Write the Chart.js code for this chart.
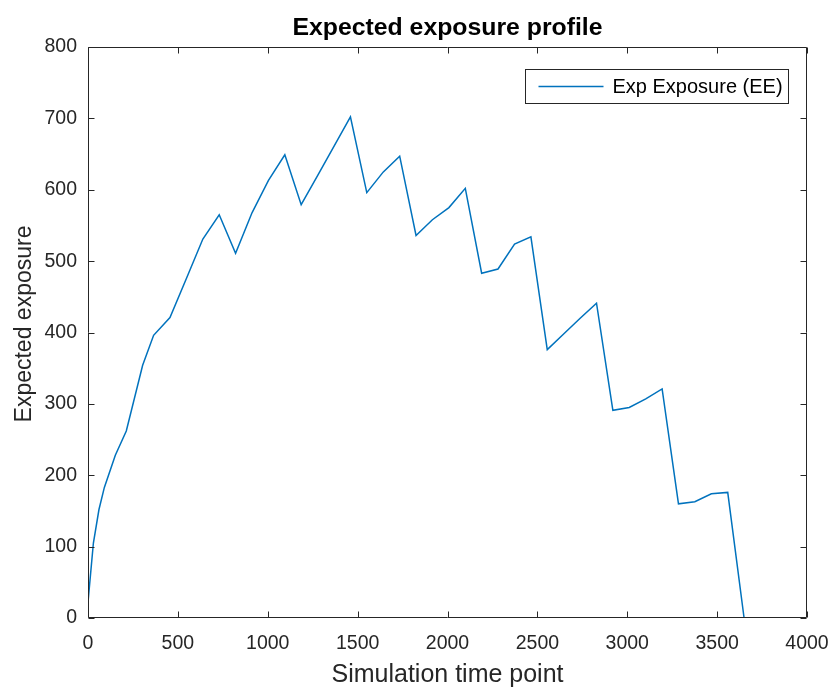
<!DOCTYPE html>
<html>
<head>
<meta charset="utf-8">
<script src="https://cdn.jsdelivr.net/npm/chart.js@4.4.1/dist/chart.umd.min.js"></script>
<style>
  html, body { margin: 0; padding: 0; background: #fff; }
  #wrap { width: 837px; height: 691px; }
</style>
</head>
<body>
<div id="wrap"><canvas id="eeChart" width="837" height="691"></canvas></div>
<script>
// simulation time points (days) and expected exposure
const timePoints = [0, 30, 61, 91, 152, 213, 304, 365, 456, 548, 639, 730, 821, 913, 1004, 1095,
    1186, 1278, 1369, 1460, 1551, 1643, 1734, 1825, 1916, 2008, 2099, 2190, 2281, 2373, 2464,
    2555, 2646, 2738, 2829, 2920, 3011, 3103, 3194, 3285, 3376, 3468, 3559, 3650];
const expExposure = [22, 105, 152, 183, 228, 262, 354, 396, 421, 476, 531, 565, 511, 568, 613, 649,
    579, 620, 661, 702, 596, 625, 647, 536, 558, 575, 602, 483, 489, 524, 534,
    376, 398, 420, 441, 291, 295, 307, 321, 160, 163, 174, 176, 0];
const xTicks = [0, 500, 1000, 1500, 2000, 2500, 3000, 3500, 4000];
const yTicks = [0, 100, 200, 300, 400, 500, 600, 700, 800];

const chartTitle = "Expected exposure profile";
const yTitle = "Expected exposure";

const FONT = "'Liberation Sans', Arial, Helvetica, sans-serif";
const AXIS = "#262626";
const BLUE = "#0072BD";

// MATLAB-like box with inward ticks on all four sides, title, y label and legend
const boxAxes = {
    id: "boxAxes",
    afterDatasetsDraw(chart) {
        const { ctx, chartArea: a, scales: { x, y } } = chart;
        const L = Math.round(a.left) + 0.5, R = Math.round(a.right) - 0.5;
        const T = Math.round(a.top) + 0.5, B = Math.round(a.bottom) - 0.5;
        const len = 6;
        ctx.save();
        ctx.strokeStyle = AXIS;
        ctx.lineWidth = 1;
        ctx.beginPath();
        ctx.rect(L, T, R - L, B - T);
        xTicks.forEach(v => {
            const px = Math.round(x.getPixelForValue(v)) + 0.5;
            ctx.moveTo(px, B); ctx.lineTo(px, B - len);
            ctx.moveTo(px, T); ctx.lineTo(px, T + len);
        });
        yTicks.forEach(v => {
            const py = Math.round(y.getPixelForValue(v)) + 0.5;
            ctx.moveTo(L, py); ctx.lineTo(L + len, py);
            ctx.moveTo(R, py); ctx.lineTo(R - len, py);
        });
        ctx.stroke();

        // title
        ctx.fillStyle = "#000";
        ctx.textAlign = "center";
        ctx.textBaseline = "middle";
        ctx.font = "bold 24.8px " + FONT;
        ctx.fillText(chartTitle, (a.left + a.right) / 2, 28);

        // y label
        ctx.save();
        ctx.translate(25, 324);
        ctx.rotate(-Math.PI / 2);
        ctx.fillStyle = AXIS;
        ctx.font = "23px " + FONT;
        ctx.fillText(yTitle, 0, 0);
        ctx.restore();

        // legend
        const ds = chart.data.datasets[0];
        const bw = 263, bh = 34;
        const bx = Math.round(a.right) - 19 - bw + 0.5, by = Math.round(a.top) + 22 + 0.5;
        ctx.fillStyle = "#fff";
        ctx.fillRect(bx, by, bw, bh);
        ctx.strokeStyle = AXIS;
        ctx.strokeRect(bx, by, bw, bh);
        const my = by + bh / 2;
        ctx.strokeStyle = ds.borderColor;
        ctx.lineWidth = 1.5;
        ctx.beginPath();
        ctx.moveTo(bx + 13, my); ctx.lineTo(bx + 78, my);
        ctx.stroke();
        ctx.fillStyle = "#000";
        ctx.textAlign = "left";
        ctx.font = "20px " + FONT;
        ctx.fillText(ds.label, bx + 87, my + 1);
        ctx.restore();
    }
};

const ctx = document.getElementById("eeChart").getContext("2d");
const eeChart = new Chart(ctx, {
    type: "scatter",
    data: {
        datasets: [
            {
                label: "Exp Exposure (EE)",
                data: timePoints.map((t, i) => ({ x: t, y: expExposure[i] })),
                showLine: true,
                borderColor: BLUE,
                borderWidth: 1.5,
                pointRadius: 0,
                tension: 0,
                fill: false,
            },
        ],
    },
    options: {
        responsive: false,
        animation: false,
        layout: { padding: { left: 0, right: 30, top: 47, bottom: 0 } },
        plugins: {
            legend: { display: false },
            tooltip: { enabled: false },
            title: { display: false },
        },
        scales: {
            x: {
                type: "linear",
                position: "bottom",
                min: 0,
                max: 4000,
                afterBuildTicks: s => { s.ticks = xTicks.map(v => ({ value: v })); },
                afterFit: s => { s.height = 73; s.paddingLeft = 0; s.paddingRight = 0; },
                ticks: {
                    color: AXIS,
                    font: { family: FONT, size: 19.5 },
                    padding: 14,
                    maxRotation: 0,
                    callback: v => String(v),
                },
                grid: { display: false, tickLength: 0 },
                border: { display: false },
                title: {
                    display: true,
                    text: "Simulation time point",
                    color: AXIS,
                    font: { family: FONT, size: 25 },
                    padding: { top: 0, bottom: 1 },
                },
            },
            y: {
                min: 0,
                max: 800,
                afterBuildTicks: s => { s.ticks = yTicks.map(v => ({ value: v })); },
                afterFit: s => { s.width = 88; s.paddingTop = 0; s.paddingBottom = 0; },
                ticks: {
                    color: AXIS,
                    font: { family: FONT, size: 19.5 },
                    padding: 11,
                    callback: v => String(v),
                },
                grid: { display: false, tickLength: 0 },
                border: { display: false },
            },
        },
    },
    plugins: [boxAxes],
});
</script>
</body>
</html>
